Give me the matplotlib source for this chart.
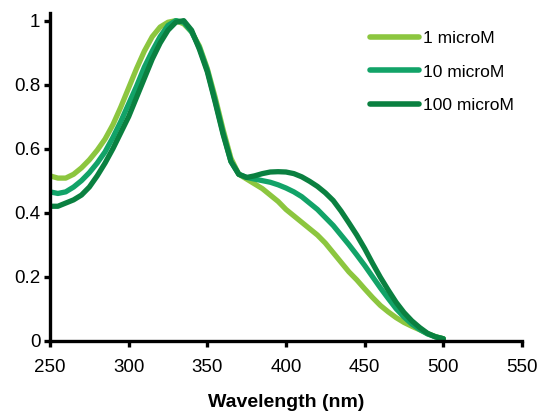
import matplotlib
matplotlib.use("Agg")
import matplotlib.pyplot as plt

wavelength = [250,255,260,265,270,275,280,285,290,295,300,305,310,315,320,325,330,335,340,345,
              350,355,360,365,370,375,380,385,390,395,400,405,410,415,420,425,430,435,440,445,
              450,455,460,465,470,475,480,485,490,495,500]

abs_1uM = [0.515,0.508,0.508,0.52,0.54,0.565,0.595,0.63,0.675,0.73,0.79,0.85,0.905,0.95,0.98,0.995,1.0,0.99,0.965,0.92,
           0.85,0.76,0.66,0.57,0.52,0.505,0.49,0.475,0.455,0.435,0.41,0.39,0.37,0.35,0.33,0.305,0.275,0.245,0.215,0.19,
           0.162,0.135,0.11,0.09,0.072,0.057,0.045,0.034,0.022,0.013,0.006]

abs_10uM = [0.465,0.46,0.465,0.48,0.50,0.525,0.555,0.59,0.635,0.685,0.74,0.795,0.855,0.905,0.95,0.985,1.0,0.995,0.965,0.915,
            0.845,0.75,0.65,0.56,0.52,0.51,0.505,0.50,0.495,0.487,0.477,0.465,0.45,0.43,0.41,0.385,0.36,0.33,0.30,0.268,
            0.235,0.2,0.165,0.132,0.1,0.074,0.052,0.035,0.021,0.012,0.006]

abs_100uM = [0.42,0.42,0.43,0.44,0.455,0.48,0.515,0.555,0.60,0.65,0.70,0.76,0.82,0.88,0.93,0.97,0.995,1.0,0.97,0.91,
             0.84,0.745,0.645,0.56,0.52,0.51,0.515,0.522,0.527,0.528,0.527,0.522,0.512,0.498,0.482,0.462,0.438,0.405,0.368,0.33,
             0.288,0.242,0.198,0.158,0.12,0.088,0.062,0.041,0.023,0.012,0.006]

labels = ["1 microM", "10 microM", "100 microM"]
colors = ["#8CC63F", "#12A368", "#0A8040"]
x_ticks = [250, 300, 350, 400, 450, 500, 550]
y_ticks = [0, 0.2, 0.4, 0.6, 0.8, 1.0]
y_ticklabels = ["0", "0.2", "0.4", "0.6", "0.8", "1"]

plt.rcParams['font.family'] = ['Liberation Sans', 'DejaVu Sans']

fig = plt.figure(figsize=(5.4, 4.18), dpi=100)
ax = fig.add_axes([0.0926, 0.185, 0.874, 0.784])

for ys, c, lab in zip([abs_1uM, abs_10uM, abs_100uM], colors, labels):
    ax.plot(wavelength, ys, color=c, lw=3.8, label=lab, solid_capstyle='round', solid_joinstyle='round')

ax.set_xlim(250, 550)
ax.set_ylim(0, 1.024)
ax.set_xticks(x_ticks)
ax.set_xticklabels([str(t) for t in x_ticks])
ax.set_yticks(y_ticks)
ax.set_yticklabels(y_ticklabels)

for s in ['top', 'right']:
    ax.spines[s].set_visible(False)
for s in ['left', 'bottom']:
    ax.spines[s].set_linewidth(2.4)
ax.tick_params(axis='both', direction='out', length=4, width=2.4, labelsize=13.5, pad=3)
ax.tick_params(axis='x', pad=9)

ax.set_xlabel("Wavelength (nm)", fontsize=14, fontweight='bold', labelpad=13)

leg = ax.legend(loc='upper left', bbox_to_anchor=(0.678, 0.945), frameon=False, fontsize=12.5,
                handlelength=2.8, handletextpad=0.25, labelspacing=1.05, borderaxespad=0, borderpad=0)
for h in leg.get_lines():
    h.set_linewidth(4)

fig.savefig("out.png", dpi=100)
